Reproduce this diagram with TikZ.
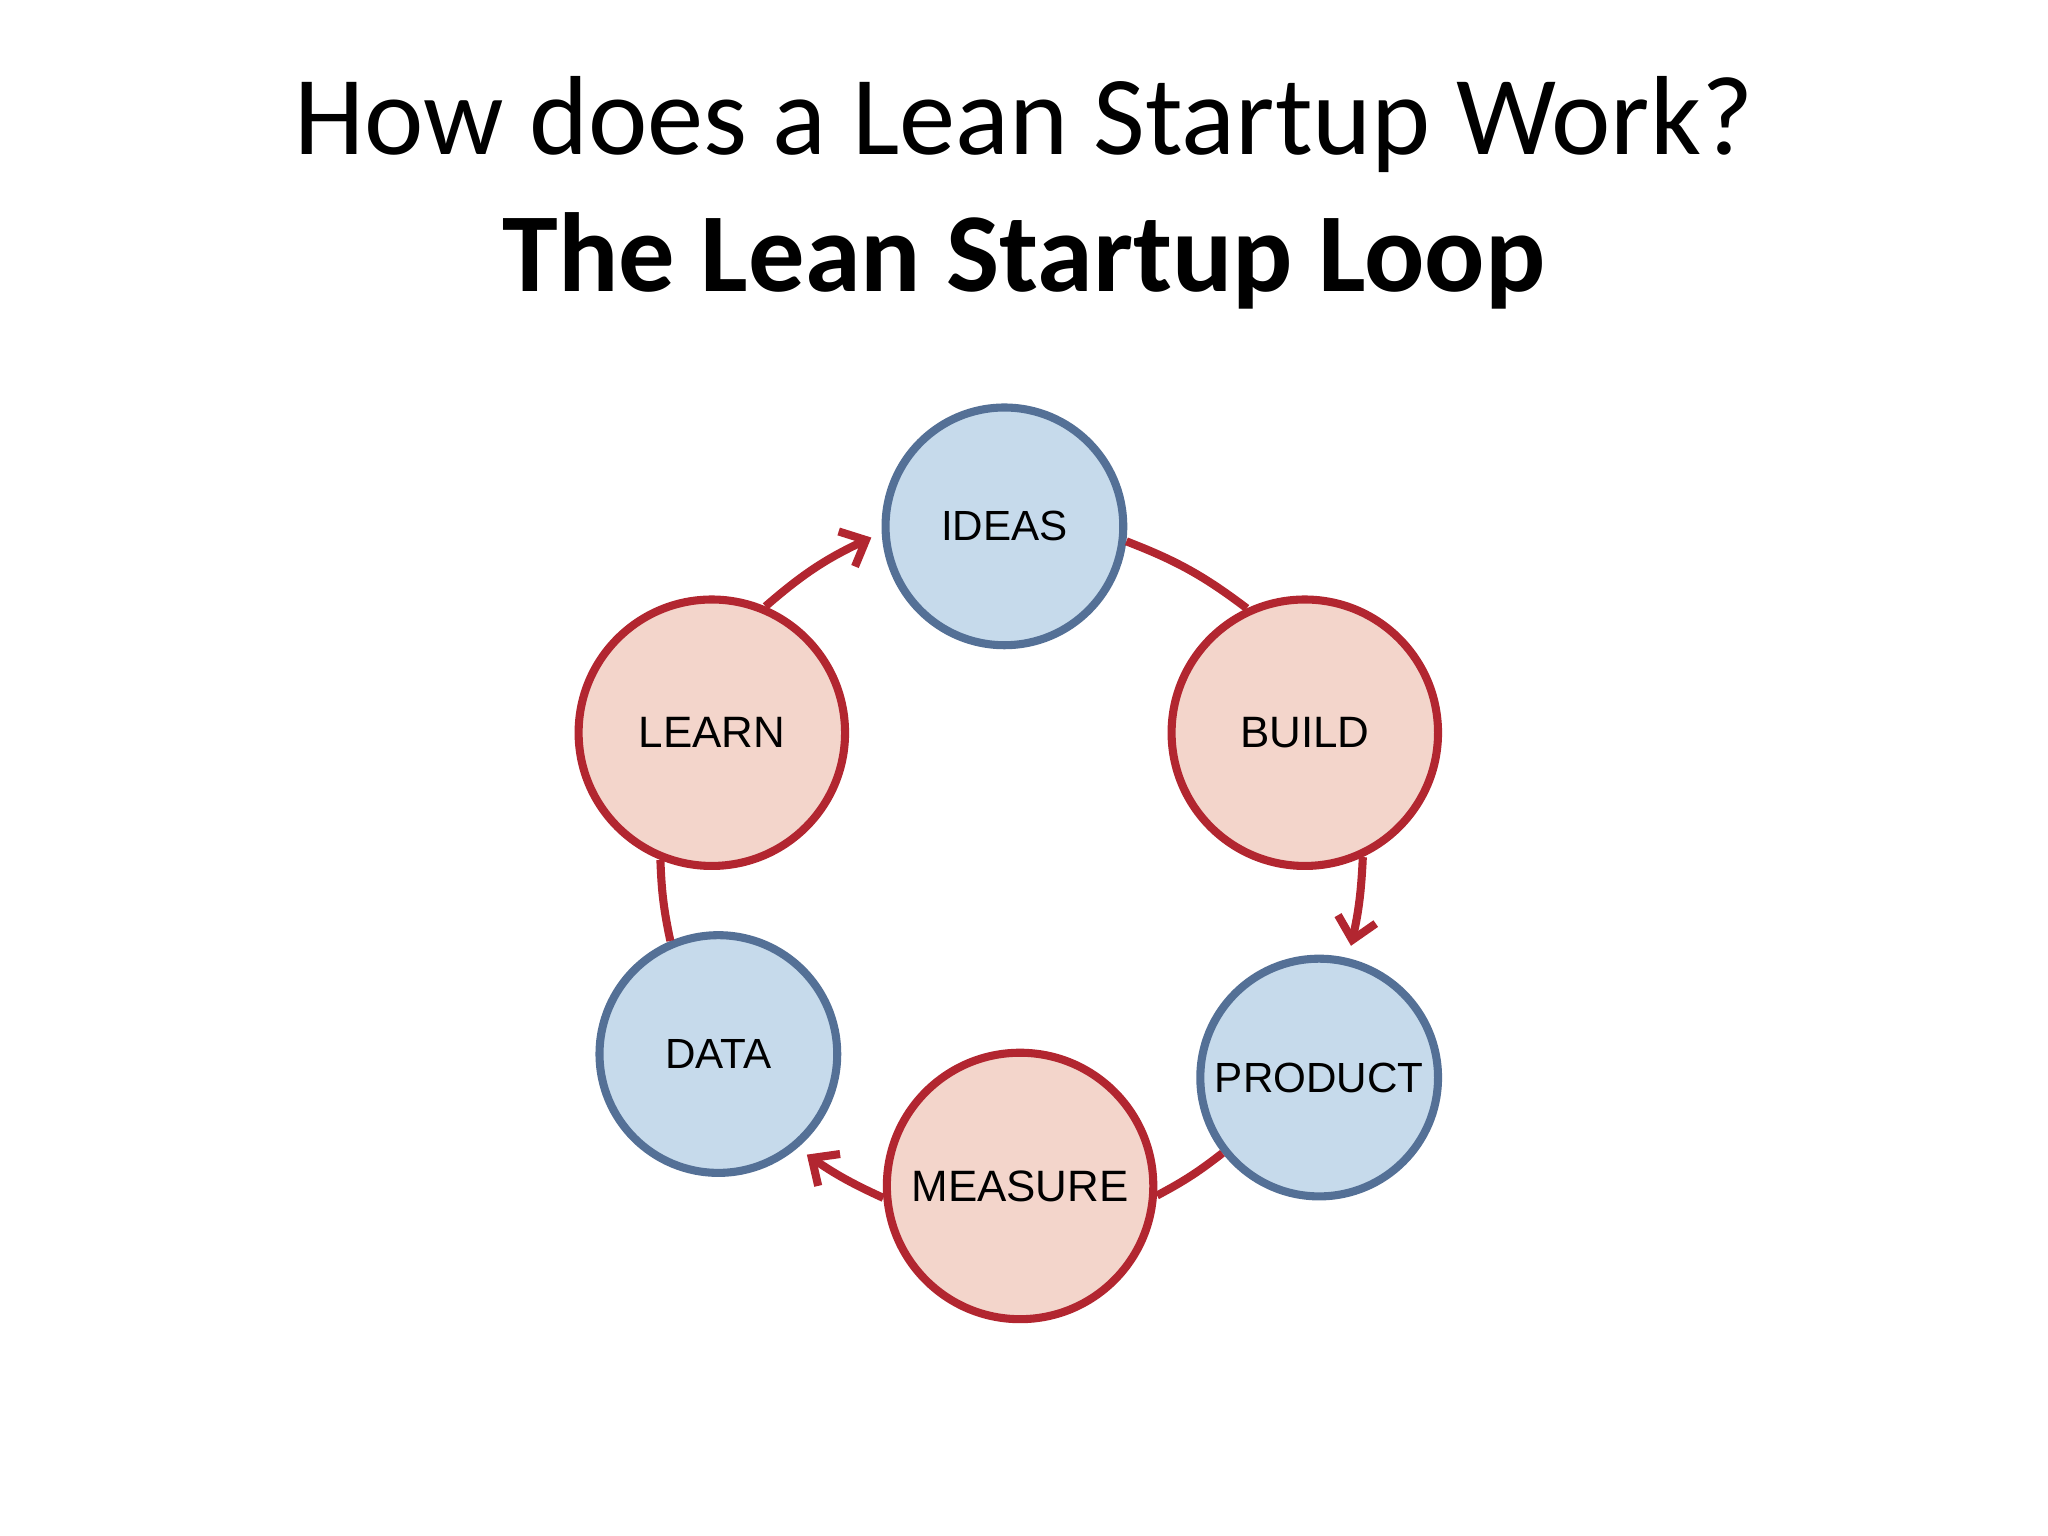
\documentclass[tikz,border=0pt]{standalone}
\usepackage{fontspec}
\setmainfont{Carlito}
\newfontfamily\lab{Liberation Sans}
\usetikzlibrary{arrows.meta}
\definecolor{bfill}{RGB}{198,218,235}
\definecolor{bdraw}{RGB}{84,112,150}
\definecolor{rfill}{RGB}{243,213,203}
\definecolor{rdraw}{RGB}{178,38,48}
\tikzset{
  bc/.style={circle,draw=bdraw,fill=bfill,line width=2.3pt,minimum size=#1*0.01306cm,inner sep=0pt,font=\lab\fontsize{12}{14}\selectfont},
  rc/.style={circle,draw=rdraw,fill=rfill,line width=2.3pt,minimum size=#1*0.01306cm,inner sep=0pt,font=\lab\fontsize{12.5}{15}\selectfont},
  conn/.style={draw=rdraw,line width=2.3pt},
  arr/.style={conn,-{Straight Barb[length=6pt,width=11pt,line width=2.3pt]}}
}
\begin{document}
\begin{tikzpicture}[x=0.01306cm,y=-0.01306cm]
\useasboundingbox (0,0) rectangle (1568,1176);
\node[font=\fontsize{32}{38}\selectfont] (t1) at (784,95) {How does a Lean Startup Work?};
\node[font=\bfseries\fontsize{32}{38}\selectfont] (t2) at (784,200) {The Lean Startup Loop};
\node[bc=182] (ideas) at (769,403) {IDEAS};
\node[rc=204] (build) at (999,561) {BUILD};
\node[bc=182] (product) at (1010,825) {PRODUCT};
\node[rc=204] (measure) at (781,908) {MEASURE};
\node[bc=182] (data) at (550,807) {DATA};
\node[rc=204] (learn) at (545,561) {LEARN};
\draw[arr] (learn.67) to[bend left=8] ([shift={(-8,2)}]ideas.184);
\draw[conn] (ideas.-7) to[bend left=8] (build.115);
\draw[arr] (build.-65) to[bend left=5] ([shift={(0,-10)}]product.75);
\draw[conn] (product.-142) to[bend left=5] (measure.-4);
\draw[arr] (measure.185) to[bend left=5] ([shift={(6,6)}]data.-49);
\draw[conn] (data.113) to[bend left=5] (learn.-112);
\end{tikzpicture}
\end{document}
